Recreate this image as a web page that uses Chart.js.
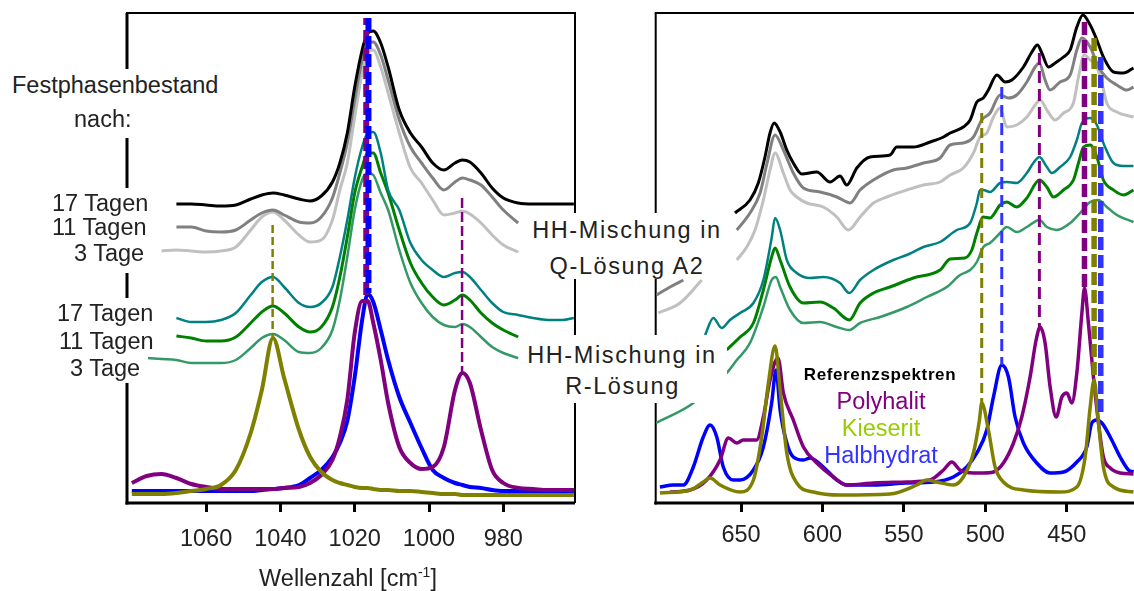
<!DOCTYPE html>
<html>
<head>
<meta charset="utf-8">
<script src="https://cdn.jsdelivr.net/npm/chart.js@4.4.0/dist/chart.umd.min.js"></script>
<style>
  html, body { margin: 0; padding: 0; background: #fff; overflow: hidden; }
  #wrap { position: relative; width: 1134px; height: 591px; font-family: "Liberation Sans", Arial, sans-serif; color: #222; }
  canvas { position: absolute; top: 0; }
  #left { left: 0; }
  #right { left: 600px; }
  .bg { position: absolute; background: #fff; }
  .t { position: absolute; white-space: nowrap; font-size: 23.5px; line-height: 23.5px; }
  sup { font-size: 14px; line-height: 0; }
</style>
</head>
<body>
<div id="wrap">
  <canvas id="left" width="600" height="591"></canvas>
  <canvas id="right" width="534" height="591"></canvas>
  <div id="bgLayer"></div>
  <div id="textLayer"></div>
</div>
<script>
// ---- left panel (sulfate band), wavenumber grid shared by the sample spectra
const wnLeft = [1080, 1076, 1072, 1068, 1064, 1060, 1056, 1052, 1048, 1045, 1042, 1039, 1035, 1032, 1029, 1026, 1024, 1022, 1020, 1018,
                1016.5, 1015, 1013, 1011, 1008, 1005, 1002, 999, 996, 993, 991, 989, 986, 983, 980, 976, 972, 968, 964, 961];

const leftQ17 = [null, null, null, 299, 299, 298, 297, 298, 304, 308, 310, 308, 304, 302, 307, 321, 340, 370, 416, 453,
                 470, 472, 460, 436, 393, 370, 356, 340, 333, 340, 343, 341, 330, 315, 305, 300, 299, 299, 299, 299];
const leftQ11 = [null, null, null, 276, 276, 272, 271, 273, 283, 290, 293, 288, 281, 280, 286, 305, 330, 360, 403, 443,
                 460, 461, 448, 423, 383, 356, 340, 325, 313, 321, 325, 323, 318, 306, 293, 280, null, null, null, null];
const leftQ3  = [null, null, 252, 253, 252, 251, 252, 256, 273, 286, 291, 283, 268, 261, 263, 283, 313, 340, 386, 430,
                 450, 453, 436, 410, 370, 335, 320, 303, 288, 290, 292, 289, 280, 268, 258, 251, null, null, null, null];
const leftR17 = [null, null, null, 185, 181, 181, 183, 190, 208, 221, 226, 216, 200, 196, 200, 216, 246, 283, 325, 356,
                 370, 371, 350, 313, 293, 260, 243, 233, 226, 230, 231, 226, 213, 200, 191, 188, 185, 183, 183, 185];
const leftR11 = [null, null, null, 167, 165, 162, 162, 166, 180, 191, 197, 190, 176, 171, 176, 196, 226, 266, 310, 336,
                 350, 350, 330, 310, 273, 240, 220, 206, 198, 203, 208, 203, 190, 180, 173, 166, null, null, null, null];
const leftR3  = [null, 145, 144, 143, 140, 140, 140, 143, 155, 165, 169, 163, 151, 150, 155, 173, 203, 246, 293, 323,
                 330, 328, 310, 293, 253, 220, 200, 186, 178, 176, 179, 176, 166, 156, 150, 145, null, null, null, null];

const leftKieserit   = [9, 9, 9, 10, 12, 14, 18, 33, 70, 113, 165, 125, 73, 46, 31, 23, 20, 18, 16, 15,
                        15, 14, 13, 13, 12, 12, 11, 10, 9, 9, 8, 8, 8, 8, 8, 8, 8, 8, 8, 8];
const leftPolyhalit  = [20, 27, 29, 25, 19, 16, 14, 14, 14, 14, 14, 15, 16, 20, 28, 43, 66, 103, 170, 202,
                        202, 180, 143, 100, 56, 40, 34, 36, 56, 113, 130, 120, 73, 33, 20, 15, 14, 13, 13, 13];
const leftHalbhydrat = [12, 12, 12, 12, 12, 12, 12, 12, 12, 13, 14, 15, 18, 25, 33, 46, 60, 82, 126, 183,
                        209, 201, 173, 143, 106, 80, 55, 33, 25, 20, 18, 16, 15, 13, 12, 12, 12, 12, 12, 12];

// band positions marked with dashed lines: olive 1042, purple 991, purple 1017, blue 1016
const leftMarkWn     = [1042.1, 991.1, 1016.9, 1016.3];
const leftMarkTop    = [278, 305, 485, 485];
const leftMarkBottom = [166, 130, 204, 210];
const leftTicks = [1060, 1040, 1020, 1000, 980];

// ---- right panel (700-410 cm-1), [wavenumber, intensity] pairs
const rightQ17 = [[653.7, 290], [644.5, 303], [639.4, 320], [635.3, 346], [632.2, 370], [629.7, 380], [626.0, 371], [621.9, 353],
  [617.9, 340], [612.7, 329], [603.5, 331], [595.3, 321], [589.2, 327], [585.1, 318], [578.9, 335], [570.8, 346], [558.5, 348],
  [554.4, 356], [544.2, 356], [533.9, 361], [525.7, 366], [521.6, 370], [513.5, 376], [509.3, 383], [505.2, 401], [501.2, 405],
  [498.1, 413], [492.9, 428], [487.8, 421], [483.7, 423], [476.6, 436], [471.4, 451], [468.0, 458], [465.3, 450], [461.2, 436],
  [457.1, 440], [452.0, 446], [447.9, 453], [443.8, 476], [440.1, 488], [435.6, 478], [431.5, 463], [427.5, 446], [421.3, 431],
  [415.2, 430], [409.0, 435]];
const rightQ11 = [[701.8, 208], [693.6, 216], [685.4, 223], [670, null], [652.6, 273], [644.5, 290], [638.3, 310], [634.0, 340],
  [629.1, 368], [624.0, 353], [617.9, 330], [611.7, 315], [601.5, 311], [591.2, 306], [585.1, 301], [583.1, 300], [576.9, 313],
  [568.7, 323], [556.5, 333], [548.2, 335], [538.0, 340], [527.8, 345], [521.6, 358], [513.5, 360], [507.3, 366], [502.2, 383],
  [497.1, 390], [490.9, 408], [485.8, 405], [480.7, 408], [474.5, 421], [469.4, 436], [466.8, 440], [463.3, 423], [460.2, 413],
  [454.1, 421], [447.9, 428], [443.8, 453], [440.7, 465], [435.6, 456], [430.5, 436], [425.4, 425], [419.2, 418], [413.1, 413],
  [409.0, 416]];
const rightQ3 = [[700.8, 190], [687.5, 200], [674.1, 223], [665, null], [652.6, 243], [646.5, 256], [641.4, 273], [636.3, 303],
  [632.2, 333], [629.1, 350], [624.0, 330], [619.9, 313], [615.8, 306], [609.6, 300], [599.5, 296], [591.2, 286], [584.1, 273],
  [576.9, 286], [568.7, 300], [560.5, 306], [548.2, 313], [538.0, 318], [527.8, 321], [521.6, 328], [513.5, 335], [507.3, 350],
  [503.2, 366], [499.1, 370], [495.0, 386], [490.9, 395], [486.8, 376], [480.7, 378], [474.5, 386], [469.4, 398], [466.3, 403],
  [462.2, 393], [457.1, 383], [452.0, 390], [445.9, 400], [442.8, 426], [439.3, 448], [435.6, 443], [431.5, 436], [428.4, 420],
  [425.4, 400], [419.2, 391], [409.0, 386]];
const rightR17 = [[672.1, 168], [667.0, 185], [661.9, 175], [656.8, 183], [650.6, 190], [642.4, 200], [636.3, 223], [631.2, 265],
  [629.1, 285], [626.0, 273], [621.9, 243], [615.8, 230], [607.6, 225], [599.5, 226], [589.2, 220], [583.5, 210], [576.9, 223],
  [568.7, 233], [556.5, 243], [548.2, 248], [538.0, 256], [527.8, 261], [517.5, 273], [509.3, 280], [505.2, 300], [503.2, 313],
  [501.2, 313], [497.1, 311], [490.9, 320], [486.8, 321], [480.7, 320], [474.5, 330], [470.5, 340], [466.8, 346], [462.2, 336],
  [459.2, 330], [454.1, 336], [447.9, 346], [443.8, 363], [440.7, 380], [435.6, 385], [431.5, 378], [427.5, 360], [421.3, 340],
  [415.2, 337], [409.0, 337]];
const rightR11 = [[658.8, 153], [650.6, 166], [642.4, 180], [636.3, 213], [631.2, 246], [629.1, 255], [626.0, 243], [619.9, 216],
  [611.7, 200], [601.5, 201], [593.3, 195], [583.5, 183], [576.9, 200], [568.7, 210], [558.5, 216], [544.2, 225], [527.8, 233],
  [521.6, 244], [512.6, 245], [508.3, 253], [505.2, 270], [501.2, 286], [497.1, 285], [490.9, 298], [486.8, 301], [480.7, 296],
  [474.5, 305], [466.8, 323], [462.2, 316], [458.2, 306], [452.0, 313], [445.9, 323], [442.8, 340], [439.7, 356], [435.6, 358],
  [431.5, 346], [427.5, 323], [421.3, 313], [415.2, 308], [409.0, 313]];
const rightR3 = [[702.2, 80], [680.1, 99], [658.8, 130], [652.6, 143], [644.5, 160], [636.3, 196], [631.2, 223], [628.5, 226],
  [626.0, 216], [619.9, 193], [611.7, 180], [601.5, 181], [591.2, 176], [583.5, 173], [576.9, 180], [564.6, 186], [548.2, 196],
  [535.9, 206], [523.7, 216], [515.5, 228], [509.3, 233], [505.2, 241], [501.2, 256], [497.1, 260], [490.9, 270], [486.8, 276],
  [480.7, 271], [474.5, 276], [466.8, 283], [462.2, 276], [456.1, 273], [447.9, 280], [441.8, 290], [435.6, 301], [430.5, 303],
  [425.4, 296], [419.2, 288], [409.0, 281]];

const rightHalbhydrat = [[699.8, 16], [691.6, 18], [685.4, 18], [679.3, 36], [673.2, 66], [669.0, 78], [664.9, 66], [660.9, 36],
  [654.7, 23], [650.6, 23], [642.4, 33], [636.3, 56], [631.2, 100], [628.5, 133], [626.0, 93], [621.9, 60], [617.9, 46],
  [611.7, 43], [607.6, 45], [599.5, 36], [591.2, 23], [585.1, 18], [568.7, 18], [548.2, 20], [531.9, 21], [519.6, 26], [511.4, 36],
  [505.2, 50], [499.1, 73], [495.0, 106], [489.9, 138], [485.8, 126], [481.7, 86], [476.6, 60], [468.4, 40], [460.2, 30],
  [452.0, 31], [443.8, 41], [437.7, 56], [434.6, 80], [431.5, 83], [428.4, 80], [423.3, 66], [417.2, 46], [412.1, 33], [409.0, 31]];
const rightPolyhalit = [[693.6, 11], [681.3, 13], [671.1, 23], [662.9, 43], [657.8, 65], [652.6, 60], [648.6, 63], [640.4, 63],
  [636.3, 86], [632.2, 123], [627.3, 145], [624.0, 110], [617.9, 83], [611.7, 56], [603.5, 40], [593.3, 26], [585.1, 18],
  [568.7, 20], [548.2, 21], [533.9, 23], [525.7, 33], [520.6, 41], [515.5, 33], [507.3, 30], [501.2, 30], [495.0, 31],
  [488.9, 40], [482.7, 60], [477.6, 86], [472.5, 126], [468.8, 163], [466.3, 176], [463.3, 160], [460.2, 116], [456.5, 86],
  [453.0, 106], [449.9, 110], [446.9, 100], [443.8, 130], [440.7, 190], [439.1, 215], [436.7, 180], [433.6, 126], [430.5, 80],
  [427.5, 46], [423.3, 35], [417.2, 30], [409.0, 29]];
const rightKieserit = [[699.8, 10], [681.3, 13], [673.2, 21], [669.0, 25], [662.9, 18], [650.6, 11], [642.4, 23], [637.3, 66],
  [633.2, 120], [629.1, 157], [626.0, 113], [621.9, 50], [615.8, 20], [605.6, 11], [589.2, 8], [558.5, 9], [542.1, 18],
  [535.9, 23], [529.8, 21], [519.6, 18], [513.5, 26], [507.3, 50], [503.6, 83], [502.2, 100], [498.1, 73], [494.0, 36],
  [488.9, 21], [476.6, 13], [454.1, 11], [443.8, 16], [438.7, 46], [435.6, 96], [433.2, 123], [430.5, 80], [427.5, 36],
  [421.3, 16], [409.0, 11]];

// dashed markers: olive 502, blue 490, purple 467, purple 439, olive 433, blue 429
const rightMarkWn     = [502.2, 489.9, 466.8, 439.1, 433.2, 429.1];
const rightMarkTop    = [390, 416, 450, 481, 465, 446];
const rightMarkBottom = [100, 138, 176, 215, 123, 86];
const rightTicks = [650, 600, 550, 500, 450];

// ---- colours
const C = {
  q17: '#000000', q11: '#808080', q3: '#c0c0c0',
  r17: '#008080', r11: '#008000', r3: '#339966',
  poly: '#800080', kies: '#808000', halb: '#0000ff', halbDash: '#3333ff'
};

const fromGrid = (grid, vals) => grid.map((w, i) => ({ x: w, y: vals[i] }));
const fromPairs = pairs => pairs.map(([x, y]) => ({ x, y }));
const marker = (wn, top, bottom) => [{ x: wn, y: top }, { x: wn, y: bottom }];

// spectra are drawn smooth, markers straight
function spec(data, color, width, order) {
  return {
    data, borderColor: color, borderWidth: width, pointRadius: 0, fill: false,
    cubicInterpolationMode: 'monotone', order, borderJoinStyle: 'round'
  };
}
function dash(data, color, width, order, pattern, offset) {
  return {
    data, borderColor: color, borderWidth: width, pointRadius: 0, fill: false, tension: 0,
    order, borderDash: pattern, borderDashOffset: offset || 0, borderCapStyle: 'butt'
  };
}

const framePlugin = {
  id: 'frame',
  beforeDatasetsDraw(chart, args, opts) {
    const { ctx, chartArea: a } = chart;
    ctx.save();
    ctx.strokeStyle = '#000';
    const side = (w, x1, y1, x2, y2) => {
      if (!w) return;
      ctx.lineWidth = w;
      ctx.beginPath();
      ctx.moveTo(x1, y1);
      ctx.lineTo(x2, y2);
      ctx.stroke();
    };
    side(opts.top, a.left - 1, a.top, a.right + 1, a.top);
    side(opts.right, a.right, a.top, a.right, a.bottom);
    side(opts.left, a.left, a.top, a.left, a.bottom + 1.5);
    side(opts.bottom, a.left - 1.5, a.bottom, a.right, a.bottom);
    ctx.restore();
  }
};

function options(xmin, xmax, tickValues, padding, frame, labelPad) {
  return {
    responsive: false,
    animation: false,
    events: [],
    layout: { padding },
    plugins: { legend: { display: false }, tooltip: { enabled: false }, frame },
    scales: {
      x: {
        type: 'linear', reverse: true, min: xmin, max: xmax,
        afterBuildTicks: s => { s.ticks = tickValues.map(v => ({ value: v })); },
        afterFit: s => { s.height = 88; },
        border: { display: false },
        grid: { drawOnChartArea: false, drawTicks: true, tickLength: 9, tickWidth: 3, tickColor: '#000' },
        ticks: {
          autoSkip: false, maxRotation: 0, padding: labelPad, color: '#222',
          font: { family: 'Liberation Sans', size: 23.5 },
          callback: v => String(v)
        }
      },
      y: { display: false, min: 0, max: 490 }
    }
  };
}

// left chart
const leftDatasets = [
  spec(fromGrid(wnLeft, leftHalbhydrat), C.halb, 4, 20),
  spec(fromGrid(wnLeft, leftPolyhalit), C.poly, 4, 19),
  spec(fromGrid(wnLeft, leftKieserit), C.kies, 4, 18),
  spec(fromGrid(wnLeft, leftR3), C.r3, 2.5, 17),
  spec(fromGrid(wnLeft, leftR11), C.r11, 3, 16),
  spec(fromGrid(wnLeft, leftR17), C.r17, 2.5, 15),
  spec(fromGrid(wnLeft, leftQ3), C.q3, 3, 14),
  spec(fromGrid(wnLeft, leftQ11), C.q11, 3, 13),
  spec(fromGrid(wnLeft, leftQ17), C.q17, 3, 12),
  dash(marker(leftMarkWn[0], leftMarkTop[0], leftMarkBottom[0]), C.kies, 2.5, 5, [8, 4]),
  dash(marker(leftMarkWn[1], leftMarkTop[1], leftMarkBottom[1]), C.poly, 2.5, 4, [10, 4]),
  dash(marker(leftMarkWn[2], leftMarkTop[2], leftMarkBottom[2]), C.poly, 6, 3, [13, 5], 6),
  dash(marker(leftMarkWn[3], leftMarkTop[3], leftMarkBottom[3]), C.halb, 6, 2, [13, 5])
];

new Chart(document.getElementById('left'), {
  type: 'line',
  data: { datasets: leftDatasets },
  options: options(960.7, 1081.3, leftTicks, { left: 127, top: 13, right: 25, bottom: 0 },
                   { top: 2, right: 2, bottom: 3, left: 3 }, 13),
  plugins: [framePlugin]
});

// right chart
const rightDatasets = [
  spec(fromPairs(rightHalbhydrat), C.halb, 3.5, 20),
  spec(fromPairs(rightPolyhalit), C.poly, 3.5, 19),
  spec(fromPairs(rightKieserit), C.kies, 3.5, 18),
  spec(fromPairs(rightR3), C.r3, 2.5, 17),
  spec(fromPairs(rightR11), C.r11, 3, 16),
  spec(fromPairs(rightR17), C.r17, 2.5, 15),
  spec(fromPairs(rightQ3), C.q3, 3, 14),
  spec(fromPairs(rightQ11), C.q11, 3, 13),
  spec(fromPairs(rightQ17), C.q17, 3, 12),
  dash(marker(rightMarkWn[0], rightMarkTop[0], rightMarkBottom[0]), C.kies, 3, 7, [10, 5]),
  dash(marker(rightMarkWn[1], rightMarkTop[1], rightMarkBottom[1]), C.halbDash, 3, 6, [12, 6]),
  dash(marker(rightMarkWn[2], rightMarkTop[2], rightMarkBottom[2]), C.poly, 3, 5, [12, 6]),
  dash(marker(rightMarkWn[3], rightMarkTop[3], rightMarkBottom[3]), C.poly, 5.5, 4, [13, 5]),
  dash(marker(rightMarkWn[4], rightMarkTop[4], rightMarkBottom[4]), C.kies, 5.5, 3, [13, 5]),
  dash(marker(rightMarkWn[5], rightMarkTop[5], rightMarkBottom[5]), C.halbDash, 5.5, 2, [13, 5])
];

new Chart(document.getElementById('right'), {
  type: 'line',
  data: { datasets: rightDatasets },
  options: options(408.7, 702.4, rightTicks, { left: 55.7, top: 13, right: 0, bottom: 0 },
                   { top: 2, right: 0, bottom: 3, left: 2 }, 9),
  plugins: [framePlugin]
});

// ---- annotation text (white boxes hide the frame behind the labels)
const boxes = [
  [8, 69, 226, 69], [48, 188, 108, 85], [53, 298, 110, 57], [66, 355, 82, 28],
  [519, 213, 212, 66], [519, 335, 208, 68]
];
const bgLayer = document.getElementById('bgLayer');
boxes.forEach(([x, y, w, h]) => {
  const d = document.createElement('div');
  d.className = 'bg';
  Object.assign(d.style, { left: x + 'px', top: y + 'px', width: w + 'px', height: h + 'px' });
  bgLayer.appendChild(d);
});

const labels = [
  { html: 'Festphasenbestand', x: 12, cy: 85.3 },
  { html: 'nach:', x: 74, cy: 119.7 },
  { html: '17 Tagen', x: 52, cy: 204 },
  { html: '11 Tagen', x: 52, cy: 227.5 },
  { html: '3 Tage', x: 74, cy: 254 },
  { html: '17 Tagen', x: 57, cy: 314 },
  { html: '11 Tagen', x: 59, cy: 341.7 },
  { html: '3 Tage', x: 70, cy: 368.5 },
  { html: 'HH-Mischung in', x: 627, cy: 231, center: true, ls: 1.6 },
  { html: 'Q-Lösung A2', x: 627, cy: 266.3, center: true, ls: 1.6 },
  { html: 'HH-Mischung in', x: 622, cy: 356, center: true, ls: 1.6 },
  { html: 'R-Lösung', x: 622.5, cy: 387, center: true, ls: 1.6 },
  { html: 'Referenzspektren', x: 880, cy: 374.5, center: true, size: 17, bold: true, ls: 0.6, color: '#000' },
  { html: 'Polyhalit', x: 881, cy: 401.3, center: true, color: '#800080' },
  { html: 'Kieserit', x: 881, cy: 428.3, center: true, color: '#99cc00' },
  { html: 'Halbhydrat', x: 881, cy: 455.8, center: true, color: '#3333ff' },
  { html: 'Wellenzahl [cm<sup>-1</sup>]', x: 348, cy: 579, center: true }
];
const textLayer = document.getElementById('textLayer');
labels.forEach(l => {
  const size = l.size || 23.5;
  const d = document.createElement('div');
  d.className = 't';
  d.innerHTML = l.html;
  d.style.fontSize = size + 'px';
  d.style.lineHeight = size + 'px';
  d.style.top = (l.cy - 0.49 * size) + 'px';
  d.style.left = l.x + 'px';
  if (l.center) d.style.transform = 'translateX(-50%)';
  if (l.ls) d.style.letterSpacing = l.ls + 'px';
  if (l.bold) d.style.fontWeight = 'bold';
  if (l.color) d.style.color = l.color;
  textLayer.appendChild(d);
});
</script>
</body>
</html>
